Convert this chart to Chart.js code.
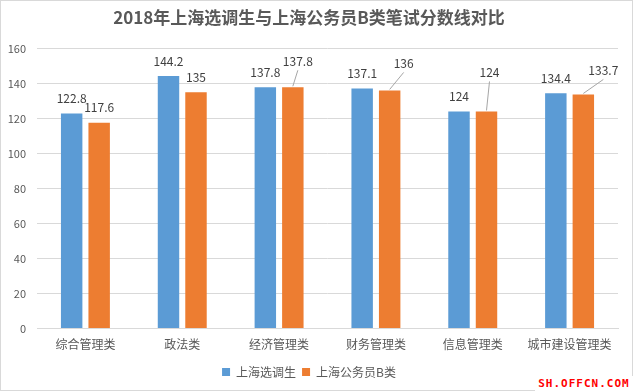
<!DOCTYPE html>
<html>
<head>
<meta charset="utf-8">
<script src="https://cdn.jsdelivr.net/npm/chart.js@4.4.0/dist/chart.umd.min.js"></script>
<style>
  html, body { margin: 0; padding: 0; background: #fff; }
  #wrap { position: relative; width: 633px; height: 391px; }
  #marca {
    position: absolute; right: 0; bottom: 0; width: 98px; height: 15px;
    background: #fff; color: #f00; font: bold 11px "DejaVu Sans Mono", monospace;
    letter-spacing: 1px; line-height: 15px; text-align: center;
  }
</style>
</head>
<body>
<div id="wrap">
  <canvas id="grafico" width="633" height="391"></canvas>
  <div id="marca">SH.OFFCN.COM</div>
</div>
<script>
// Datos
const categorias = ['综合管理类', '政法类', '经济管理类', '财务管理类', '信息管理类', '城市建设管理类'];
const nombresSeries = ['上海选调生', '上海公务员B类'];
const xuandiao = [122.8, 144.2, 137.8, 137.1, 124, 134.4];
const gongwuyuanB = [117.6, 135, 137.8, 136, 124, 133.7];
const ticksY = [0, 20, 40, 60, 80, 100, 120, 140, 160];

const colores = {
  azul: '#5b9bd5',
  naranja: '#ed7d31',
  rejilla: '#d9d9d9',
  texto: '#595959',
  etiqueta: '#404040',
  guia: '#a6a6a6'
};
const fuente = '"Noto Sans CJK SC", "Noto Sans", sans-serif';

// Etiquetas desplazadas con línea guía (serie 1, índice -> [dx, dy])
const desplazados = { 1: { 2: [5, -26], 3: [14, -27], 4: [3, -39], 5: [20, -24] } };

const marco = {
  id: 'marco',
  beforeDraw(chart) {
    const ctx = chart.ctx;
    ctx.save();
    ctx.fillStyle = '#fff';
    ctx.fillRect(0, 0, chart.width, chart.height);
    ctx.strokeStyle = colores.rejilla;
    ctx.lineWidth = 1;
    ctx.strokeRect(0.5, 0.5, chart.width - 1, chart.height - 1);
    ctx.restore();
  }
};

const etiquetas = {
  id: 'etiquetas',
  afterDatasetsDraw(chart) {
    const ctx = chart.ctx;
    ctx.save();
    ctx.font = '12px ' + fuente;
    ctx.fillStyle = colores.etiqueta;
    ctx.textAlign = 'center';
    ctx.textBaseline = 'middle';
    chart.data.datasets.forEach((ds, di) => {
      chart.getDatasetMeta(di).data.forEach((barra, i) => {
        const off = (desplazados[di] || {})[i];
        let lx = barra.x, ly = barra.y - 15;
        if (off) {
          lx = barra.x + off[0];
          ly = barra.y + off[1];
          ctx.strokeStyle = colores.guia;
          ctx.lineWidth = 1;
          ctx.beginPath();
          ctx.moveTo(lx, ly + 9);
          ctx.lineTo(barra.x, barra.y - 1);
          ctx.stroke();
        }
        ctx.fillText(String(ds.data[i]), lx, ly);
      });
    });
    ctx.restore();
  }
};

new Chart(document.getElementById('grafico'), {
  type: 'bar',
  data: {
    labels: categorias,
    datasets: [
      { label: nombresSeries[0], data: xuandiao, backgroundColor: colores.azul },
      { label: nombresSeries[1], data: gongwuyuanB, backgroundColor: colores.naranja }
    ]
  },
  options: {
    responsive: false,
    animation: false,
    devicePixelRatio: 1,
    categoryPercentage: 0.568,
    barPercentage: 0.78,
    layout: { padding: { left: 0, right: 15, top: 0, bottom: 3 } },
    plugins: {
      title: {
        display: true,
        text: '2018年上海选调生与上海公务员B类笔试分数线对比',
        color: colores.texto,
        font: { family: fuente, size: 17, weight: 'bold' },
        padding: { top: 7, bottom: 21 }
      },
      legend: {
        position: 'bottom',
        labels: {
          boxWidth: 8,
          boxHeight: 8,
          padding: 6,
          color: colores.texto,
          font: { family: fuente, size: 12 }
        }
      },
      tooltip: { enabled: false }
    },
    scales: {
      x: {
        afterFit: s => { s.height = 31.4; },
        grid: { display: false },
        border: { color: colores.rejilla },
        ticks: { color: colores.texto, padding: 1, font: { family: fuente, size: 12 } }
      },
      y: {
        min: 0,
        max: 160,
        afterFit: s => { s.width = 37; },
        afterBuildTicks: s => { s.ticks = ticksY.map(v => ({ value: v })); },
        grid: { color: colores.rejilla, drawTicks: false },
        border: { display: false },
        ticks: { color: colores.texto, padding: 11, font: { family: fuente, size: 11 } }
      }
    }
  },
  plugins: [marco, etiquetas]
});
</script>
</body>
</html>
